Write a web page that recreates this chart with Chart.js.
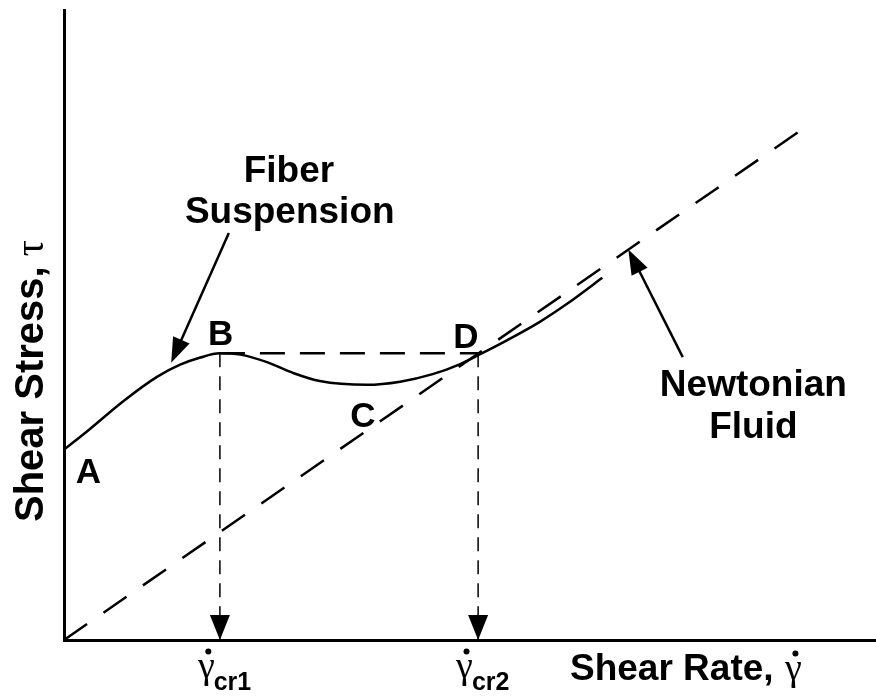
<!DOCTYPE html>
<html>
<head>
<meta charset="utf-8">
<script src="https://cdn.jsdelivr.net/npm/chart.js@4"></script>
<style>
  html, body { margin: 0; padding: 0; background: #fff; }
</style>
</head>
<body>
<canvas id="flowChart" width="876" height="699"></canvas>
<script>
// fiber suspension flow curve: shear rate vs shear stress (arbitrary units)
const fiberRate = [0, 3.2, 7.3, 11.5, 14.3, 16.7, 19.2, 21.7, 25.0, 28.2, 31.5, 37.3, 41.4, 45.4, 48.8, 51.0, 54.6, 58.6, 62.0, 66.3];
const fiberStress = [30.2, 33.5, 37.9, 41.8, 43.7, 44.8, 45.5, 45.3, 44.1, 42.4, 41.1, 40.5, 41.0, 42.2, 43.8, 45.2, 47.6, 50.5, 53.4, 57.5];

// newtonian fluid: straight line through the origin
const newtonRate = [0, 91.3];
const newtonStress = [0, 81.4];

// points B and D share the same stress
const criticalRates = [19.2, 51.0];
const criticalNames = ['cr1', 'cr2'];
const plateauStress = 45.5;

// letters along the curves, in axis units
const pointNames = ['A', 'B', 'C', 'D'];
const pointRate = [3.0, 19.3, 36.8, 49.5];
const pointStress = [24.9, 46.8, 33.8, 46.3];

const BOLD = '"Liberation Sans", Arial, sans-serif';
const SERIF = '"Liberation Serif", "Times New Roman", serif';

function pairs(xs, ys) {
  return xs.map((v, i) => ({ x: v, y: ys[i] }));
}

function arrowHead(ctx, x0, y0, x1, y1, len, half) {
  const a = Math.atan2(y1 - y0, x1 - x0);
  ctx.beginPath();
  ctx.moveTo(x1, y1);
  ctx.lineTo(x1 - len * Math.cos(a) + half * Math.sin(a), y1 - len * Math.sin(a) - half * Math.cos(a));
  ctx.lineTo(x1 - len * Math.cos(a) - half * Math.sin(a), y1 - len * Math.sin(a) + half * Math.cos(a));
  ctx.closePath();
  ctx.fill();
}

function pointer(ctx, x0, y0, x1, y1) {
  const a = Math.atan2(y1 - y0, x1 - x0);
  ctx.lineWidth = 2.5;
  ctx.beginPath();
  ctx.moveTo(x0, y0);
  ctx.lineTo(x1 - 15 * Math.cos(a), y1 - 15 * Math.sin(a));
  ctx.stroke();
  arrowHead(ctx, x0, y0, x1, y1, 25, 9);
}

function dottedGamma(ctx, left, base, size) {
  ctx.font = size + 'px ' + SERIF;
  ctx.textAlign = 'left';
  ctx.fillText('γ', left, base);
  const w = ctx.measureText('γ').width;
  ctx.beginPath();
  ctx.arc(left + w * 0.62, base - size * 0.7, 3, 0, Math.PI * 2);
  ctx.fill();
  return w;
}

const annotations = {
  id: 'annotations',
  afterDatasetsDraw(chart) {
    const { ctx, scales: { x, y }, chartArea } = chart;
    ctx.save();
    ctx.fillStyle = '#000';
    ctx.strokeStyle = '#000';

    // arrowheads at the foot of the drop lines
    criticalRates.forEach(r => {
      const px = x.getPixelForValue(r);
      arrowHead(ctx, px, y.getPixelForValue(plateauStress), px, y.getPixelForValue(0), 25, 10);
    });

    // pointers to the two curves
    pointer(ctx, x.getPixelForValue(20.3), y.getPixelForValue(64.6), x.getPixelForValue(13.2), y.getPixelForValue(44.0));
    pointer(ctx, x.getPixelForValue(76.2), y.getPixelForValue(44.9), x.getPixelForValue(69.5), y.getPixelForValue(62.0));

    ctx.textAlign = 'center';
    ctx.textBaseline = 'alphabetic';
    ctx.font = 'bold 35px ' + BOLD;
    pointNames.forEach((n, i) => {
      ctx.fillText(n, x.getPixelForValue(pointRate[i]), y.getPixelForValue(pointStress[i]));
    });
    ctx.font = 'bold 37px ' + BOLD;
    ctx.fillText('Fiber', x.getPixelForValue(27.7), y.getPixelForValue(72.7));
    ctx.fillText('Suspension', x.getPixelForValue(27.8), y.getPixelForValue(66.2));
    ctx.fillText('Newtonian', x.getPixelForValue(84.9), y.getPixelForValue(38.7));
    ctx.fillText('Fluid', x.getPixelForValue(84.9), y.getPixelForValue(32.1));

    // critical shear rate labels under the axis
    const base = chartArea.bottom;
    criticalRates.forEach((r, i) => {
      const px = x.getPixelForValue(r);
      const w = dottedGamma(ctx, px - 22, base + 38, 38);
      ctx.font = 'bold 25px ' + BOLD;
      ctx.fillText(criticalNames[i], px - 22 + w - 1, base + 50);
    });

    // x axis title
    ctx.font = 'bold 37px ' + BOLD;
    ctx.textAlign = 'left';
    ctx.fillText('Shear Rate,', 570, base + 40);
    dottedGamma(ctx, 785, base + 40, 38);

    // y axis title, rotated
    ctx.translate(43, 522);
    ctx.rotate(-Math.PI / 2);
    ctx.font = 'bold 40px ' + BOLD;
    ctx.fillText('Shear Stress,', 0, 0);
    const tw = ctx.measureText('Shear Stress,').width;
    ctx.font = '40px ' + SERIF;
    ctx.fillText('τ', tw + 10, 0);
    ctx.restore();
  }
};

const axisLine = { display: true, width: 3, color: '#000' };

new Chart(document.getElementById('flowChart'), {
  type: 'scatter',
  data: {
    datasets: [
      {
        data: pairs(fiberRate, fiberStress),
        showLine: true,
        borderColor: '#000',
        borderWidth: 2.5,
        cubicInterpolationMode: 'monotone',
        pointRadius: 0
      },
      {
        data: pairs(newtonRate, newtonStress),
        showLine: true,
        borderColor: '#000',
        borderWidth: 2.5,
        borderDash: [28, 20],
        pointRadius: 0
      },
      {
        data: pairs(criticalRates, [plateauStress, plateauStress]),
        showLine: true,
        borderColor: '#000',
        borderWidth: 2.5,
        borderDash: [25, 15],
        pointRadius: 0
      },
      ...criticalRates.map(r => ({
        data: [{ x: r, y: plateauStress }, { x: r, y: 0 }],
        showLine: true,
        borderColor: '#000',
        borderWidth: 1.5,
        borderDash: [14, 9],
        pointRadius: 0
      }))
    ]
  },
  options: {
    responsive: false,
    animation: false,
    devicePixelRatio: 1,
    layout: { padding: { top: 10, right: 0, left: 0, bottom: 0 } },
    plugins: { legend: { display: false }, tooltip: { enabled: false } },
    scales: {
      x: {
        type: 'linear', min: 0, max: 100,
        ticks: { display: false },
        grid: { display: false },
        border: axisLine,
        afterFit: s => { s.height = 59; }
      },
      y: {
        type: 'linear', min: 0, max: 100,
        ticks: { display: false },
        grid: { display: false },
        border: axisLine,
        afterFit: s => { s.width = 64; }
      }
    }
  },
  plugins: [annotations]
});
</script>
</body>
</html>
